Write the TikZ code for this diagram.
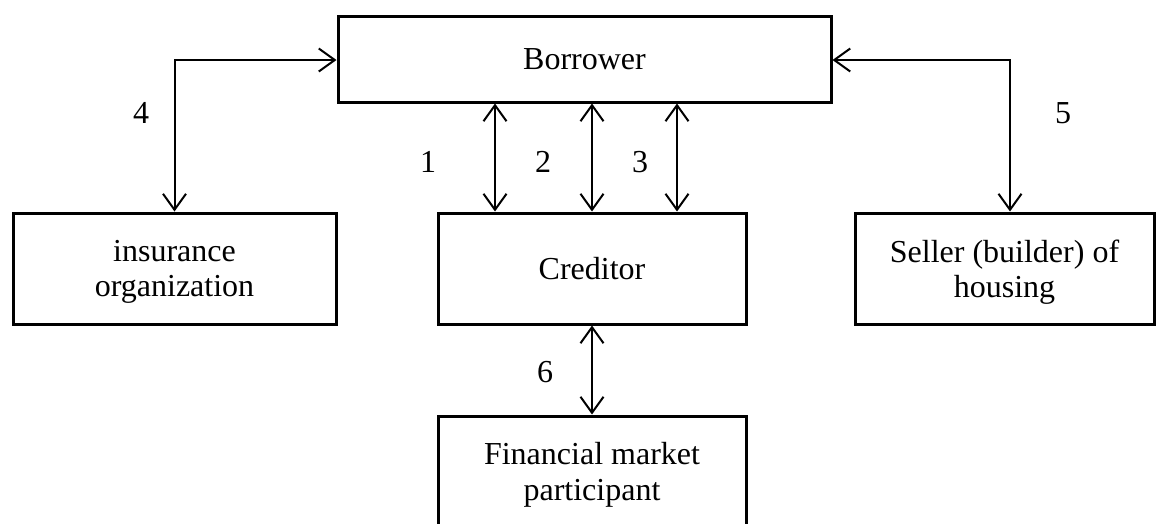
\documentclass[tikz,border=0pt]{standalone}
\usepackage{fontspec}
\setmainfont{Liberation Serif}
\usetikzlibrary{arrows.meta}
\begin{document}
\begin{tikzpicture}[x=1pt,y=-1pt,
  box/.style={draw,line width=3pt,inner sep=0pt,align=center,
    font=\fontsize{32}{35.5}\selectfont},
  twoline/.style={text depth=0pt},
  lbl/.style={font=\fontsize{32}{35}\selectfont,inner sep=0pt},
  link/.style={line width=2pt,{Straight Barb[length=16pt,width=23pt,line width=2pt]}-{Straight Barb[length=16pt,width=23pt,line width=2pt]}}]
\clip (0,0) rectangle (1156,523);
\node[box,minimum width=493pt,minimum height=86pt] (borrower) at (584.5,59) {Borrower};
\node[box,twoline,minimum width=323pt,minimum height=111pt] (insurance) at (174.5,268.5) {insurance\\organization};
\node[box,minimum width=308pt,minimum height=111pt] (creditor) at (592,268.5) {Creditor};
\node[box,twoline,minimum width=299pt,minimum height=111pt] (seller) at (1004.5,268.5) {Seller (builder) of\\housing};
\node[box,twoline,minimum width=308pt,minimum height=111pt] (financial) at (592,471.5) {Financial market\\participant};
\coordinate (x1) at (495,0);
\coordinate (x2) at (592,0);
\coordinate (x3) at (677,0);
\coordinate (yl) at (0,60);
\coordinate (c5) at (1010,60);
\draw[link] (borrower.south -| x1) -- (creditor.north -| x1);
\draw[link] (borrower.south -| x2) -- (creditor.north -| x2);
\draw[link] (borrower.south -| x3) -- (creditor.north -| x3);
\draw[link] (creditor.south -| x2) -- (financial.north -| x2);
\draw[link] (insurance.north) |- (borrower.west |- yl);
\draw[link] (seller.north -| c5) |- (borrower.east |- c5);
\node[lbl] (n4) at (141,113) {4};
\node[lbl] (n5) at (1063,113) {5};
\node[lbl] (n1) at (428,162) {1};
\node[lbl] (n2) at (543,162) {2};
\node[lbl] (n3) at (640,162) {3};
\node[lbl] (n6) at (545,372) {6};
\end{tikzpicture}
\end{document}
